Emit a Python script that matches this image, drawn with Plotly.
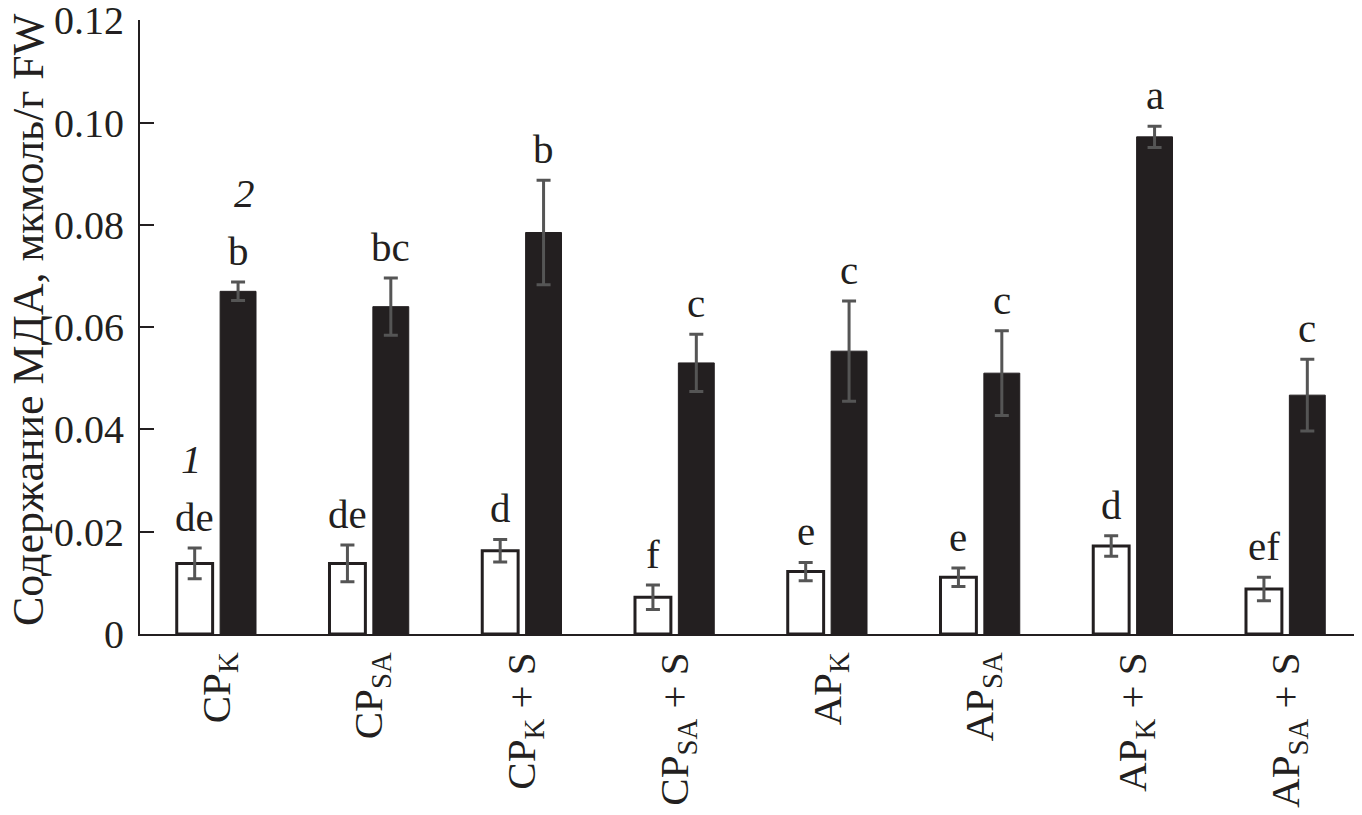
import plotly.graph_objects as go

categories = [
    "CP<sub>K</sub>",
    "CP<sub>SA</sub>",
    "CP<sub>K</sub> + S",
    "CP<sub>SA</sub> + S",
    "AP<sub>K</sub>",
    "AP<sub>SA</sub>",
    "AP<sub>K</sub> + S",
    "AP<sub>SA</sub> + S",
]

# 1 - white bars, 2 - black bars
mda_1 = [0.0138, 0.0138, 0.0163, 0.0072, 0.0122, 0.0111, 0.0172, 0.0088]
err_1 = [0.0030, 0.0036, 0.0022, 0.0024, 0.0018, 0.0018, 0.0020, 0.0023]
mda_2 = [0.0670, 0.0640, 0.0785, 0.0530, 0.0553, 0.0510, 0.0972, 0.0467]
err_2 = [0.0018, 0.0056, 0.0102, 0.0056, 0.0098, 0.0083, 0.0021, 0.0070]
letters_1 = ["de", "de", "d", "f", "e", "e", "d", "ef"]
letters_2 = ["b", "bc", "b", "c", "c", "c", "a", "c"]

y_ticks = [0, 0.02, 0.04, 0.06, 0.08, 0.10, 0.12]
y_ticktext = ["0", "0.02", "0.04", "0.06", "0.08", "0.10", "0.12"]
y_title = "Содержание МДА, мкмоль/г FW"

FONT = "Liberation Serif"
INK = "#231f20"
BAR_W = 0.235
SHIFT = 0.142
pos = list(range(len(categories)))

fig = go.Figure()

fig.add_trace(
    go.Bar(
        x=pos,
        y=mda_1,
        width=BAR_W,
        offset=-SHIFT - BAR_W / 2,
        marker={"color": "#ffffff", "line": {"color": INK, "width": 3}},
        error_y={"type": "data", "array": err_1, "color": "#555555", "thickness": 3, "width": 7},
        showlegend=False,
    )
)
fig.add_trace(
    go.Bar(
        x=pos,
        y=mda_2,
        width=BAR_W,
        offset=SHIFT - BAR_W / 2,
        marker={"color": INK, "line": {"color": INK, "width": 1}},
        error_y={"type": "data", "array": err_2, "color": "#555555", "thickness": 3, "width": 7},
        showlegend=False,
    )
)

for i in pos:
    fig.add_annotation(
        x=i - SHIFT, y=mda_1[i] + err_1[i], text=letters_1[i],
        showarrow=False, yanchor="bottom", yshift=6,
        font={"size": 41, "color": INK, "family": FONT},
    )
    fig.add_annotation(
        x=i + SHIFT, y=mda_2[i] + err_2[i], text=letters_2[i],
        showarrow=False, yanchor="bottom", yshift=6,
        font={"size": 41, "color": INK, "family": FONT},
    )

# series numbers above the first group
fig.add_annotation(
    x=0 - SHIFT, y=mda_1[0] + err_1[0], text="<i>1</i>", xshift=-3,
    showarrow=False, yanchor="bottom", yshift=64,
    font={"size": 41, "color": INK, "family": FONT},
)
fig.add_annotation(
    x=0 + SHIFT, y=mda_2[0] + err_2[0], text="<i>2</i>", xshift=6,
    showarrow=False, yanchor="bottom", yshift=64,
    font={"size": 41, "color": INK, "family": FONT},
)

# y axis title
fig.add_annotation(
    x=0, y=0.5, xref="paper", yref="paper", text=y_title, textangle=-90,
    showarrow=False, xanchor="center", yanchor="middle", xshift=-112, yshift=7,
    font={"size": 44, "color": INK, "family": FONT},
)

fig.update_layout(
    width=1354,
    height=807,
    margin={"l": 132, "r": 0, "t": 12, "b": 181},
    barmode="overlay",
    paper_bgcolor="#ffffff",
    plot_bgcolor="#ffffff",
    font={"family": FONT, "color": INK, "size": 40},
    xaxis={
        "range": [-0.5, 7.5],
        "tickvals": pos,
        "ticktext": categories,
        "tickangle": -90,
        "automargin": False,
        "showgrid": False,
        "zeroline": False,
        "showline": True,
        "linecolor": INK,
        "linewidth": 2,
        "ticks": "",
        "tickfont": {"size": 41, "family": FONT, "color": INK},
    },
    yaxis={
        "range": [0, 0.12005],
        "tickvals": y_ticks,
        "ticktext": y_ticktext,
        "automargin": False,
        "showgrid": False,
        "zeroline": False,
        "showline": True,
        "linecolor": INK,
        "linewidth": 2,
        "ticks": "inside",
        "ticklen": 14,
        "tickwidth": 2,
        "tickcolor": INK,
        "ticklabelstandoff": 6,
        "ticklabeloverflow": "allow",
        "tickfont": {"size": 40, "family": FONT, "color": INK},
    },
)

fig.write_html("out.html")
